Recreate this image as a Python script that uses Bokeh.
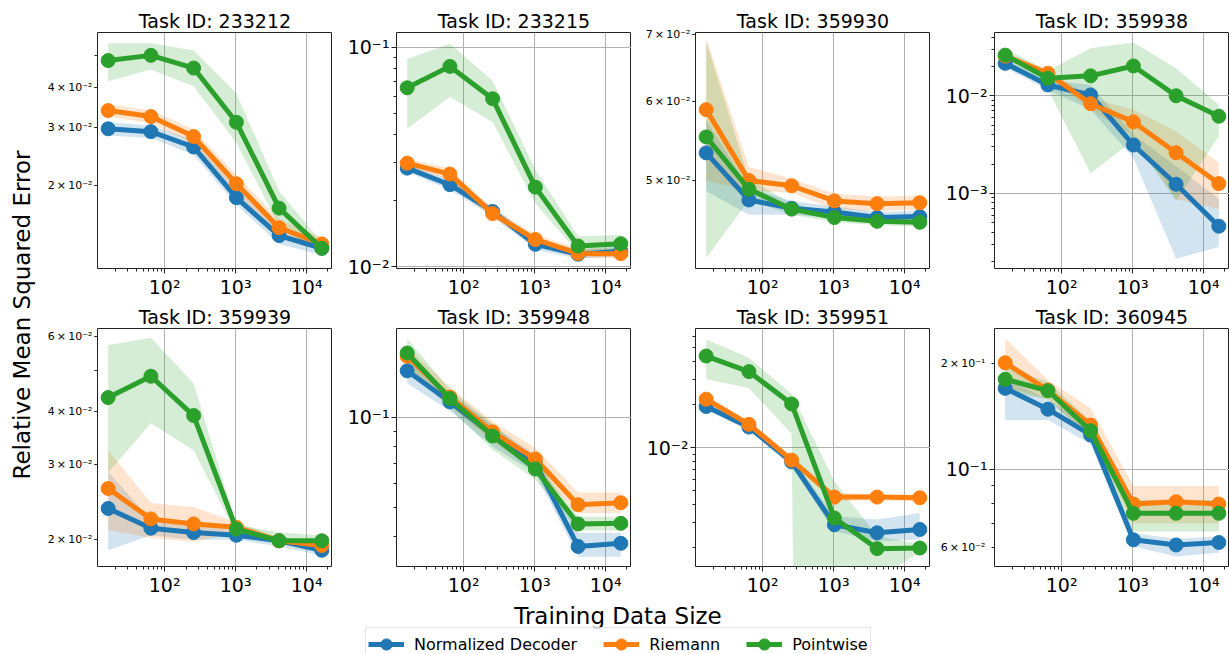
import math
from bokeh.plotting import figure
from bokeh.models import (FixedTicker, Label, Legend, LegendItem, Range1d,
                          CustomJSTickFormatter, LogAxis)
from bokeh.layouts import row, column
from bokeh.embed import file_html
from bokeh.resources import INLINE
from bokeh.core.properties import value

FONT = "DejaVu Sans"

task_ids = ["233212", "233215", "359930", "359938",
            "359939", "359948", "359951", "360945"]
train_sizes = [16, 64, 256, 1024, 4096, 16384]
methods = ["Normalized Decoder", "Riemann", "Pointwise"]
colors = ["#1f77b4", "#ff7f0e", "#2ca02c"]

# ---- Normalized Decoder ----
nd_mean = {
    "233212": [0.0298, 0.0292, 0.0262, 0.0183, 0.0140, 0.0128],
    "233215": [0.0282, 0.0237, 0.0179, 0.01268, 0.01143, 0.0118],
    "359930": [0.0533, 0.0478, 0.0469, 0.0465, 0.0459, 0.0460],
    "359938": [0.0215, 0.0129, 0.0102, 0.00313, 0.00124, 0.000461],
    "359939": [0.0237, 0.0213, 0.0208, 0.0205, 0.0199, 0.0189],
    "359948": [0.143, 0.1127, 0.0873, 0.0703, 0.0371, 0.0380],
    "359951": [0.01937, 0.0139, 0.00794, 0.00288, 0.00253, 0.00267],
    "360945": [0.1696, 0.148, 0.1251, 0.0631, 0.0610, 0.0620],
}
nd_lo = {
    "233212": [0.0284, 0.0279, 0.0248, 0.0174, 0.0132, 0.0122],
    "233215": [0.0270, 0.0225, 0.0170, 0.0120, 0.0109, 0.0112],
    "359930": [0.0488, 0.0462, 0.0462, 0.0459, 0.0454, 0.0455],
    "359938": [0.0195, 0.0115, 0.0072, 0.00232, 0.000214, 0.000283],
    "359939": [0.0189, 0.0205, 0.0200, 0.0200, 0.0193, 0.0184],
    "359948": [0.130, 0.105, 0.080, 0.065, 0.0343, 0.0343],
    "359951": [0.0183, 0.0131, 0.0074, 0.00259, 0.00221, 0.00227],
    "360945": [0.138, 0.138, 0.118, 0.0604, 0.0566, 0.0580],
}
nd_hi = {
    "233212": [0.0312, 0.0305, 0.0276, 0.0195, 0.0148, 0.0134],
    "233215": [0.0295, 0.0250, 0.0189, 0.0134, 0.0120, 0.0124],
    "359930": [0.0575, 0.0492, 0.0477, 0.0471, 0.0465, 0.0466],
    "359938": [0.0235, 0.0145, 0.0129, 0.0040, 0.0019, 0.00088],
    "359939": [0.0289, 0.0223, 0.0216, 0.0210, 0.0203, 0.0193],
    "359948": [0.155, 0.121, 0.094, 0.075, 0.0411, 0.0411],
    "359951": [0.0205, 0.0147, 0.0085, 0.00330, 0.00313, 0.00348],
    "360945": [0.180, 0.158, 0.132, 0.0659, 0.0635, 0.0645],
}

# ---- Riemann ----
rm_mean = {
    "233212": [0.0339, 0.0325, 0.0282, 0.0202, 0.0148, 0.0132],
    "233215": [0.0297, 0.0265, 0.0175, 0.01334, 0.01153, 0.0115],
    "359930": [0.0589, 0.0500, 0.0494, 0.0477, 0.0474, 0.0475],
    "359938": [0.0255, 0.0170, 0.0083, 0.0054, 0.00261, 0.00126],
    "359939": [0.0264, 0.0224, 0.0218, 0.0214, 0.0199, 0.0194],
    "359948": [0.160, 0.117, 0.0895, 0.0726, 0.0511, 0.0519],
    "359951": [0.0218, 0.01453, 0.00816, 0.0045, 0.0045, 0.00445],
    "360945": [0.2004, 0.1677, 0.1335, 0.0797, 0.0809, 0.0797],
}
rm_lo = {
    "233212": [0.0325, 0.0310, 0.0268, 0.0190, 0.0140, 0.0126],
    "233215": [0.0285, 0.0250, 0.0167, 0.0127, 0.0110, 0.0110],
    "359930": [0.0500, 0.0488, 0.0486, 0.0468, 0.0466, 0.0467],
    "359938": [0.0235, 0.0155, 0.0072, 0.00387, 0.00087, 0.00069],
    "359939": [0.0211, 0.0202, 0.0198, 0.0208, 0.0196, 0.0189],
    "359948": [0.148, 0.109, 0.083, 0.067, 0.0479, 0.0480],
    "359951": [0.0206, 0.0137, 0.0077, 0.0042, 0.0043, 0.0042],
    "360945": [0.171, 0.158, 0.123, 0.0703, 0.0703, 0.0703],
}
rm_hi = {
    "233212": [0.0354, 0.0340, 0.0297, 0.0215, 0.0157, 0.0138],
    "233215": [0.0310, 0.0282, 0.0184, 0.0141, 0.0121, 0.0121],
    "359930": [0.0695, 0.0516, 0.0502, 0.0485, 0.0482, 0.0483],
    "359938": [0.0280, 0.0185, 0.0095, 0.0072, 0.00431, 0.00207],
    "359939": [0.0325, 0.0244, 0.0239, 0.0220, 0.0203, 0.0198],
    "359948": [0.172, 0.126, 0.097, 0.079, 0.0561, 0.0561],
    "359951": [0.0231, 0.0154, 0.0087, 0.0048, 0.0047, 0.0047],
    "360945": [0.235, 0.179, 0.149, 0.0897, 0.0897, 0.0897],
}

# ---- Pointwise ----
pw_mean = {
    "233212": [0.0483, 0.0501, 0.0458, 0.0312, 0.0170, 0.0128],
    "233215": [0.0655, 0.0820, 0.0584, 0.0231, 0.01245, 0.01276],
    "359930": [0.0553, 0.0490, 0.0468, 0.0459, 0.0455, 0.0454],
    "359938": [0.0261, 0.0151, 0.0160, 0.0202, 0.0100, 0.00617],
    "359939": [0.0432, 0.0485, 0.0392, 0.0212, 0.0199, 0.0199],
    "359948": [0.164, 0.1156, 0.0867, 0.0673, 0.0441, 0.0443],
    "359951": [0.0437, 0.0340, 0.0202, 0.00321, 0.00196, 0.00198],
    "360945": [0.180, 0.167, 0.1286, 0.0750, 0.0750, 0.0750],
}
pw_lo = {
    "233212": [0.0417, 0.0453, 0.0403, 0.0270, 0.0150, 0.0123],
    "233215": [0.0427, 0.0594, 0.0458, 0.0195, 0.0116, 0.0116],
    "359930": [0.0418, 0.0478, 0.0462, 0.0454, 0.0451, 0.0450],
    "359938": [0.0223, 0.0116, 0.00161, 0.0035, 0.00084, 0.00386],
    "359939": [0.0288, 0.0376, 0.0325, 0.0207, 0.0195, 0.0194],
    "359948": [0.148, 0.107, 0.078, 0.062, 0.0419, 0.0419],
    "359951": [0.0301, 0.0261, 0.0125, 0.0, 0.0012, 0.00185],
    "360945": [0.166, 0.158, 0.122, 0.0666, 0.0666, 0.0666],
}
pw_hi = {
    "233212": [0.0546, 0.0546, 0.0519, 0.0383, 0.0192, 0.0133],
    "233215": [0.0886, 0.104, 0.0706, 0.0277, 0.0138, 0.0140],
    "359930": [0.0689, 0.0502, 0.0474, 0.0464, 0.0459, 0.0458],
    "359938": [0.0305, 0.0180, 0.0306, 0.0352, 0.0191, 0.0081],
    "359939": [0.0574, 0.0597, 0.0466, 0.0217, 0.0208, 0.0205],
    "359948": [0.183, 0.124, 0.095, 0.072, 0.0466, 0.0466],
    "359951": [0.0571, 0.0425, 0.0237, 0.0058, 0.0024, 0.00210],
    "360945": [0.195, 0.177, 0.137, 0.0819, 0.0819, 0.0819],
}

# y-axis limits
y_limits = {
    "233212": (0.01109, 0.0589),
    "233215": (0.00984, 0.117),
    "359930": (0.0408, 0.0704),
    "359938": (0.000170, 0.0445),
    "359939": (0.01731, 0.0628),
    "359948": (0.0318, 0.198),
    "359951": (0.00147, 0.0681),
    "360945": (0.0530, 0.2507),
}

# minor tick values that carry a label in the reference
minor_labels = {
    "233212": [0.02, 0.03, 0.04],
    "359930": [0.05, 0.06, 0.07],
    "359939": [0.02, 0.03, 0.04, 0.06],
    "360945": [0.06, 0.2],
}

JS_FMT = """
const sup = {"-": "\u207b", "0": "\u2070", "1": "\u00b9", "2": "\u00b2", "3": "\u00b3",
             "4": "\u2074", "5": "\u2075", "6": "\u2076", "7": "\u2077", "8": "\u2078", "9": "\u2079"};
const e = Math.floor(Math.log10(tick) + 1e-9);
const k = Math.round(tick / Math.pow(10, e));
const p = "10" + String(e).split("").map(c => sup[c]).join("");
return k == 1 ? p : k + "\u2009\u00d7\u2009" + p;
"""


def log_ticks(lo, hi):
    e0 = math.floor(math.log10(lo)) - 1
    e1 = math.ceil(math.log10(hi)) + 1
    majors, minors = [], []
    for e in range(e0, e1 + 1):
        base = 10.0 ** e
        if lo <= base <= hi:
            majors.append(base)
        for k in range(2, 10):
            v = k * base
            if lo <= v <= hi:
                minors.append(v)
    return majors, minors


lx0, lx1 = math.log10(train_sizes[0]), math.log10(train_sizes[-1])
span = lx1 - lx0
x_lo, x_hi = 10 ** (lx0 - 0.05 * span), 10 ** (lx1 + 0.05 * span)
x_major, x_minor = log_ticks(x_lo, x_hi)

FLOOR = 1e-30
series = [(nd_mean, nd_lo, nd_hi), (rm_mean, rm_lo, rm_hi), (pw_mean, pw_lo, pw_hi)]
EDGE = "#222222"

FRAME_W = 235
LEFT_B = [58, 64, 64, 64]
ROW_H = [300, 298]
ROW_TOP = [32, 28]
ROW_BOTTOM = [30, 32]
YLAB_W = 39
BIG_AXIS_EXTENT = 48   # tick (5) + standoff (2) + width of a "10^-1" label


def style_axis(ax, size, tick_out, standoff=2):
    ax.axis_line_color = None
    ax.major_tick_in = 0
    ax.major_tick_out = tick_out
    ax.minor_tick_in = 0
    ax.minor_tick_out = 3
    ax.major_tick_line_color = EDGE
    ax.minor_tick_line_color = EDGE
    ax.major_label_text_font = FONT
    ax.major_label_text_font_size = size
    ax.major_label_text_color = "black"
    ax.major_label_standoff = standoff


def make_panel(idx, task):
    r, c = divmod(idx, 4)
    ymin, ymax = y_limits[task]
    p = figure(x_axis_type="log", y_axis_type="log",
               x_range=Range1d(x_lo, x_hi), y_range=Range1d(ymin, ymax),
               width=LEFT_B[c] + FRAME_W, height=ROW_H[r],
               min_border_left=LEFT_B[c], min_border_right=0,
               min_border_top=ROW_TOP[r], min_border_bottom=ROW_BOTTOM[r],
               output_backend="svg", toolbar_location=None)
    p.outline_line_color = EDGE
    p.outline_line_width = 1
    p.background_fill_color = "white"
    p.border_fill_color = "white"

    p.title.text = f"Task ID: {task}"
    p.title.align = "center"
    p.title.text_font = FONT
    p.title.text_font_size = "19px"
    p.title.text_font_style = "normal"
    p.title.text_color = "black"
    p.title.standoff = 1

    y_major, y_minor = log_ticks(ymin, ymax)
    labeled = minor_labels.get(task, [])
    p.xaxis[0].ticker = FixedTicker(ticks=x_major, minor_ticks=x_minor)
    p.xaxis[0].formatter = CustomJSTickFormatter(code=JS_FMT)
    style_axis(p.xaxis[0], "19px", 5)
    p.yaxis[0].formatter = CustomJSTickFormatter(code=JS_FMT)
    p.ygrid[0].ticker = FixedTicker(ticks=y_major)
    if y_major:
        p.yaxis[0].ticker = FixedTicker(ticks=y_major, minor_ticks=y_minor)
        style_axis(p.yaxis[0], "19px", 5)
        if labeled:
            # second axis for the small minor-tick labels, pulled back next to the frame
            extra = LogAxis(ticker=FixedTicker(ticks=labeled, minor_ticks=[]),
                            formatter=CustomJSTickFormatter(code=JS_FMT))
            style_axis(extra, "11px", 0, standoff=-(BIG_AXIS_EXTENT - 5))
            extra.major_tick_line_color = None
            extra.minor_tick_line_color = None
            p.add_layout(extra, "left")
    else:
        p.yaxis[0].ticker = FixedTicker(ticks=labeled, minor_ticks=y_minor)
        style_axis(p.yaxis[0], "11px", 3)
    for g in (p.xgrid[0], p.ygrid[0]):
        g.grid_line_color = "#b0b0b0"
        g.grid_line_width = 1

    for (mean, lo, hi), col in zip(series, colors):
        lo_v = [v if v > 0 else FLOOR for v in lo[task]]
        p.varea(x=train_sizes, y1=lo_v, y2=hi[task], fill_color=col, fill_alpha=0.2)
    for (mean, lo, hi), col in zip(series, colors):
        p.line(train_sizes, mean[task], line_width=5, line_color=col, line_join="round")
        p.scatter(train_sizes, mean[task], size=14, fill_color=col, line_color=col)
    return p


panels = [make_panel(i, t) for i, t in enumerate(task_ids)]
grid = column(row(*panels[:4], spacing=0), row(*panels[4:], spacing=0), spacing=0)

GRID_H = sum(ROW_H)
ylab = figure(width=YLAB_W, height=GRID_H, x_range=Range1d(0, YLAB_W), y_range=Range1d(0, GRID_H),
              min_border=0, title_location=None, output_backend="svg", toolbar_location=None)
ylab.axis.visible = False
ylab.grid.visible = False
ylab.outline_line_color = None
ylab.add_layout(Label(x=21.5, y=GRID_H - 314.5, text="Relative Mean Squared Error",
                      angle=math.pi / 2, text_align="center", text_baseline="middle",
                      text_font=FONT, text_font_size="23px", text_color="black"))

BOT_W = YLAB_W + sum(LEFT_B) + 4 * FRAME_W
BOT_H = 654 - GRID_H
bot = figure(width=BOT_W, height=BOT_H, x_range=Range1d(0, BOT_W), y_range=Range1d(0, BOT_H),
             min_border=0, title_location=None, output_backend="svg", toolbar_location=None)
bot.axis.visible = False
bot.grid.visible = False
bot.outline_line_color = None
bot.text(x=[617.5], y=[BOT_H - (615 - GRID_H)], text=["Training Data Size"],
         text_align="center", text_baseline="alphabetic",
         text_font=value(FONT), text_font_size="23px", text_color="black")

# legend proxies: placed outside the visible range, only their styling is shown
items = []
for name, col in zip(methods, colors):
    lr = bot.line(x=[-50, -40], y=[-50, -50], line_width=5, line_color=col)
    sr = bot.scatter(x=[-45], y=[-50], size=12, fill_color=col, line_color=col)
    items.append(LegendItem(label=name, renderers=[lr, sr]))
LEG_PAD, LEG_GH = 2, 28
leg_top = 629 - GRID_H
legend = Legend(items=items, orientation="horizontal",
                location=(367 - LEG_PAD, BOT_H - leg_top - (2 * LEG_PAD + LEG_GH)),
                glyph_width=36, glyph_height=LEG_GH, label_standoff=10, spacing=26,
                padding=LEG_PAD, margin=0, label_text_font=FONT, label_text_font_size="16px",
                label_text_color="black", border_line_color="#cccccc",
                border_line_width=1, background_fill_alpha=0.8)
bot.add_layout(legend, "center")

layout = column(row(ylab, grid, spacing=0), bot, spacing=0)

open("out.html", "w").write(file_html(layout, INLINE))
